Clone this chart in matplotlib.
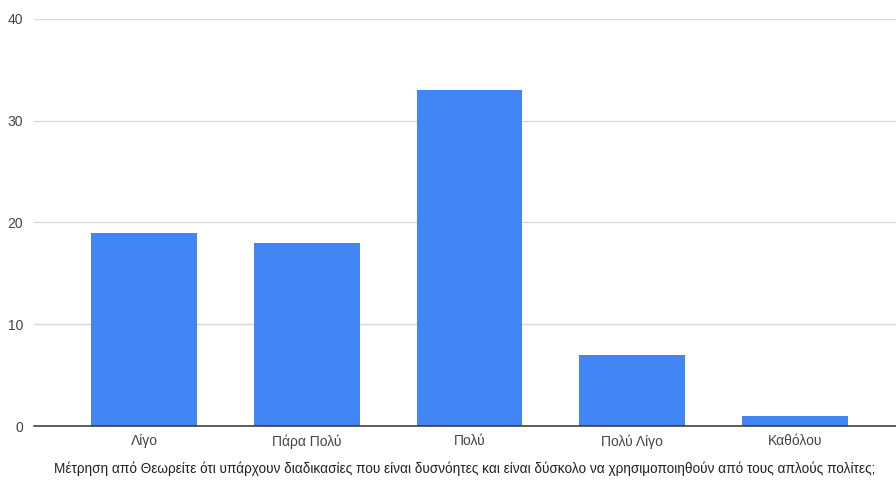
import matplotlib
matplotlib.use("Agg")
import matplotlib.pyplot as plt

categories = ["Λίγο", "Πάρα Πολύ", "Πολύ", "Πολύ Λίγο", "Καθόλου"]
counts = [19, 18, 33, 7, 1]
y_ticks = [0, 10, 20, 30, 40]
x_title = ("Μέτρηση από Θεωρείτε ότι υπάρχουν διαδικασίες που είναι δυσνόητες "
           "και είναι δύσκολο να χρησιμοποιηθούν από τους απλούς πολίτες;")

plt.rcParams["font.family"] = ["Liberation Sans", "DejaVu Sans"]

fig = plt.figure(figsize=(8.96, 4.82), dpi=100)
ax = fig.add_axes([0.038, 0.116, 0.962, 0.845])

x = list(range(len(categories)))
ax.bar(x, counts, width=0.65, color="#4285F4", zorder=3)

ax.set_xlim(-0.676, 4.62)
ax.set_ylim(0, 40)
ax.set_yticks(y_ticks)
ax.set_xticks(x)
ax.set_xticklabels(categories)

ax.grid(axis="y", color="#d9d9d9", linewidth=1, zorder=0)
ax.axhline(0, color="#333333", linewidth=1.1, zorder=4, clip_on=False)
for s in ax.spines.values():
    s.set_visible(False)
ax.tick_params(axis="both", length=0, labelsize=10, labelcolor="#444444")
ax.tick_params(axis="x", pad=6)
ax.tick_params(axis="y", pad=8)

fig.text(0.519, 0.012, x_title, ha="center", va="bottom",
         fontsize=9.8, color="#222222")

fig.savefig("out.png", dpi=100)
